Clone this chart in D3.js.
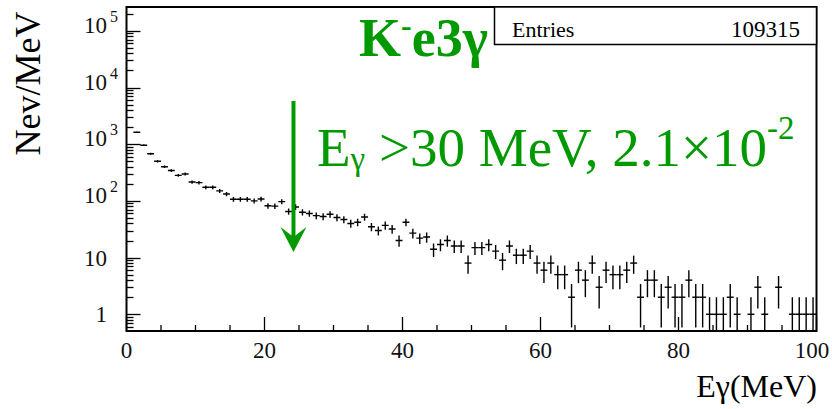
<!DOCTYPE html>
<html lang="en">
<head>
<meta charset="UTF-8">
<title>K-e3gamma photon energy spectrum</title>
<script src="https://d3js.org/d3.v7.min.js"></script>
<style>
  body { margin: 0; background: #fff; }
</style>
</head>
<body>
<div id="chart"></div>
<script>
// histogram: 1 MeV bins from 0 to 100 MeV, events per bin
var binWidth = 1;
var counts = [
  0, 1620, 960, 680, 500, 400, 343, 282, 298, 215,
  210, 174, 174, 150, 132, 107, 107, 107, 100, 108,
  82, 81, 97, 65, 78, 63, 60, 55, 53, 58,
  51, 47, 40, 42, 52, 35, 30, 37, 32, 20,
  42, 27, 22, 23, 14, 17, 20, 16, 16, 8,
  15, 15, 17, 13, 9, 16, 11, 11, 13, 8,
  6, 8, 5, 5, 2, 6, 4, 8, 3, 6,
  5, 5, 6, 8, 2, 4, 4, 2, 3, 2,
  2, 4, 2, 2, 1, 1, 1, 2, 1, 0,
  1, 3, 1, 0, 3, 0, 1, 1, 1, 1
];
var entries = 109315;

// axis labels
var xTicks = [0, 20, 40, 60, 80, 100];
var xTickLabels = ["0", "20", "40", "60", "80", "100"];
var yTicks = [1, 10, 100, 1000, 10000, 100000];
var yTickBase = ["1", "10", "10", "10", "10", "10"];
var yTickExp = ["", "", "2", "3", "4", "5"];

// annotation
var cutArrowE = 24.2;          // MeV, where the arrow points
var cutArrowFrom = 5800, cutArrowTo = 12.6;

var width = 832, height = 409;
var green = "#009900";
var serif = "'Liberation Serif', 'Times New Roman', Times, serif";

var svg = d3.select("#chart").append("svg")
    .attr("width", width)
    .attr("height", height)
    .attr("font-family", serif);

var x = d3.scaleLinear().domain([0, 100]).range([126.5, 816.5]);
var y = d3.scaleLog().domain([0.507, 2.63e5]).range([331, 7]);
var yMin = y.domain()[0];

svg.append("clipPath").attr("id", "frame-clip")
  .append("rect")
    .attr("x", x(0)).attr("y", y.range()[1])
    .attr("width", x(100) - x(0)).attr("height", y.range()[0] - y.range()[1]);

// data points with sqrt(N) error bars
var bins = counts.map(function(c, i) { return { lo: i * binWidth, hi: (i + 1) * binWidth, n: c }; })
                 .filter(function(d) { return d.n > 0; });

var pts = svg.append("g").attr("clip-path", "url(#frame-clip)")
    .attr("stroke", "#000").attr("stroke-width", 1.4);

pts.selectAll("line.h").data(bins).enter().append("line")
    .attr("class", "h")
    .attr("x1", function(d) { return x(d.lo); })
    .attr("x2", function(d) { return x(d.hi); })
    .attr("y1", function(d) { return y(d.n); })
    .attr("y2", function(d) { return y(d.n); });

pts.selectAll("line.v").data(bins).enter().append("line")
    .attr("class", "v")
    .attr("x1", function(d) { return x((d.lo + d.hi) / 2); })
    .attr("x2", function(d) { return x((d.lo + d.hi) / 2); })
    .attr("y1", function(d) { return y(Math.max(d.n - Math.sqrt(d.n), yMin)); })
    .attr("y2", function(d) { return y(d.n + Math.sqrt(d.n)); });

// ticks, drawn inward like ROOT
var tickG = svg.append("g").attr("stroke", "#000").attr("stroke-width", 1.3);

var yAll = y.ticks();
tickG.selectAll("line.yt").data(yAll).enter().append("line")
    .attr("class", "yt")
    .attr("x1", x(0))
    .attr("x2", function(d) { return x(0) + (Math.abs(Math.log10(d) - Math.round(Math.log10(d))) < 1e-9 ? 14 : 7); })
    .attr("y1", function(d) { return Math.round(y(d)) + 0.5; })
    .attr("y2", function(d) { return Math.round(y(d)) + 0.5; });

var xAll = x.ticks(20);
tickG.selectAll("line.xt").data(xAll).enter().append("line")
    .attr("class", "xt")
    .attr("x1", function(d) { return x(d); })
    .attr("x2", function(d) { return x(d); })
    .attr("y1", y.range()[0])
    .attr("y2", function(d) { return y.range()[0] - (d % 20 === 0 ? 14 : 6); });

// frame
svg.append("rect")
    .attr("x", x(0)).attr("y", y.range()[1])
    .attr("width", x(100) - x(0)).attr("height", y.range()[0] - y.range()[1])
    .attr("fill", "none").attr("stroke", "#000").attr("stroke-width", 2);

// y tick labels
var yl = svg.append("g").attr("font-size", 23).attr("fill", "#111");
yTicks.forEach(function(v, i) {
  var ty = y(v);
  if (yTickExp[i] === "") {
    yl.append("text").attr("x", 107).attr("y", ty + 8)
      .attr("text-anchor", "end").text(yTickBase[i]);
  } else {
    yl.append("text").attr("x", 107).attr("y", ty + 2)
      .attr("text-anchor", "end").text(yTickBase[i]);
    yl.append("text").attr("x", 110).attr("y", ty - 9)
      .attr("font-size", 16).text(yTickExp[i]);
  }
});

// x tick labels (last one pulled in a little so it stays on the page)
svg.append("g").attr("font-size", 23).attr("fill", "#111")
  .selectAll("text").data(xTicks).enter().append("text")
    .attr("x", function(d) { return Math.min(x(d), 812); })
    .attr("y", 358)
    .attr("text-anchor", "middle")
    .text(function(d, i) { return xTickLabels[i]; });

// axis titles
svg.append("text")
    .attr("transform", "translate(40,83.5) rotate(-90)")
    .attr("text-anchor", "middle")
    .attr("font-size", 36)
    .text("Nev/MeV");

svg.append("text")
    .attr("x", 817).attr("y", 397)
    .attr("text-anchor", "end")
    .attr("font-size", 32)
    .text("E\u03b3(MeV)");

// stats box
svg.append("rect")
    .attr("x", 494.5).attr("y", 7)
    .attr("width", x(100) - 494.5).attr("height", 37.5)
    .attr("fill", "#fff").attr("stroke", "#000").attr("stroke-width", 1.5);
svg.append("text").attr("x", 512).attr("y", 36.5).attr("font-size", 22).text("Entries");
svg.append("text").attr("x", 800).attr("y", 36.5).attr("font-size", 23)
    .attr("text-anchor", "end").text(entries);

// channel label
var ch = svg.append("text")
    .attr("x", 359).attr("y", 56)
    .attr("font-size", 54).attr("font-weight", "bold").attr("fill", green);
ch.append("tspan").text("K");
ch.append("tspan").attr("y", 36).attr("font-size", 32).text("-");
ch.append("tspan").attr("y", 56).text("e3\u03b3");

// cut label
var cut = svg.append("text")
    .attr("x", 317).attr("y", 166)
    .attr("font-size", 55).attr("fill", green);
cut.append("tspan").text("E");
cut.append("tspan").attr("y", 170).attr("font-size", 33).text("\u03b3");
cut.append("tspan").attr("y", 166).text(" >30 MeV, 2.1\u00d710");
cut.append("tspan").attr("y", 139).attr("font-size", 33).text("-2");

// arrow
var ax = x(cutArrowE), ay0 = y(cutArrowFrom), ay1 = y(cutArrowTo);
svg.append("line")
    .attr("x1", ax).attr("x2", ax)
    .attr("y1", ay0).attr("y2", ay1 - 14)
    .attr("stroke", green).attr("stroke-width", 4);
svg.append("path")
    .attr("d", "M" + ax + "," + ay1 +
               " L" + (ax + 13) + "," + (ay1 - 25) +
               " L" + ax + "," + (ay1 - 15) +
               " L" + (ax - 13) + "," + (ay1 - 25) + " Z")
    .attr("fill", green);
</script>
</body>
</html>
